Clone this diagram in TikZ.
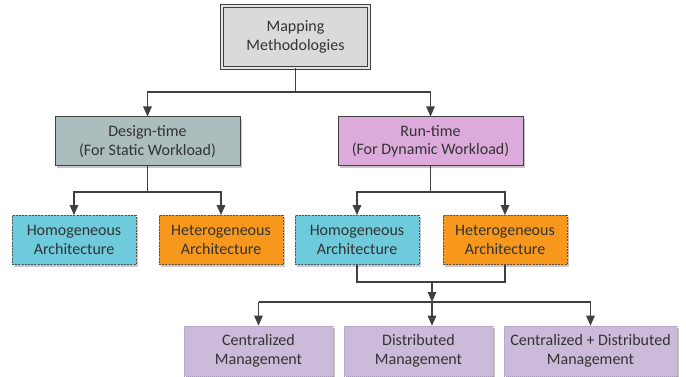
\documentclass[tikz,border=0pt]{standalone}
\usepackage{fontspec}
\setmainfont{Carlito}
\usetikzlibrary{arrows.meta,shadows}
\definecolor{txt}{HTML}{333333}
\definecolor{ln}{HTML}{404040}
\definecolor{topfill}{HTML}{DADADA}
\definecolor{designfill}{HTML}{ABBDBD}
\definecolor{runfill}{HTML}{DCABDC}
\definecolor{cyanfill}{HTML}{6DCBDC}
\definecolor{orangefill}{HTML}{F7981D}
\definecolor{mgmtfill}{HTML}{CBBAD9}
\definecolor{mgmtedge}{HTML}{A898B8}
\tikzset{
  base/.style={font=\fontsize{16}{18.5}\selectfont, text=txt, align=center, inner sep=0pt,
    drop shadow={shadow xshift=2pt, shadow yshift=-2pt, fill=black!22, opacity=1}},
  topbox/.style={base, draw=ln, line width=0.7pt, double=topfill!70!white, double distance=2pt,
    fill=topfill, minimum width=147pt, minimum height=62pt},
  midbox/.style={base, draw=ln, line width=1pt, minimum width=185pt, minimum height=49pt},
  archbox/.style={base, draw=ln!90, line width=0.8pt, dash pattern=on 2pt off 1.2pt,
    minimum width=124pt, minimum height=49pt},
  mgmtbox/.style={base, draw=mgmtedge, line width=0.6pt, dash pattern=on 1pt off 1pt,
    fill=mgmtfill, minimum height=50pt},
  conn/.style={draw=ln, line width=1.3pt},
  arr/.style={conn, -{Triangle[length=10pt,width=8.5pt]}}
}
\begin{document}
\begin{tikzpicture}[x=1pt,y=-1pt]
\useasboundingbox (0,0) rectangle (686,377);
\node[topbox] (top) at (295.5,37) {Mapping\\Methodologies};
\node[midbox, fill=designfill] (design) at (147.5,141.5) {Design-time\\(For Static Workload)};
\node[midbox, fill=runfill] (run) at (430.5,141.5) {Run-time\\(For Dynamic Workload)};
\node[archbox, fill=cyanfill] (homL) at (74,240) {Homogeneous\\Architecture};
\node[archbox, fill=orangefill] (hetL) at (221,240) {Heterogeneous\\Architecture};
\node[archbox, fill=cyanfill] (homR) at (357,240) {Homogeneous\\Architecture};
\node[archbox, fill=orangefill] (hetR) at (505,240) {Heterogeneous\\Architecture};
\node[mgmtbox, minimum width=149pt] (cent) at (258.5,351) {Centralized\\Management};
\node[mgmtbox, minimum width=149pt] (dist) at (418.5,351) {Distributed\\Management};
\node[mgmtbox, minimum width=173pt] (cd) at (590.5,351) {Centralized + Distributed\\Management};
% top level
\coordinate (j1) at (295.5,92);
\draw[conn] (top.south) -- (j1);
\draw[arr] (j1) -| (design.north);
\draw[arr] (j1) -| (run.north);
% design-time
\coordinate (j2) at (147.5,192);
\draw[conn] (design.south) -- (j2);
\draw[arr] (j2) -| (homL.north);
\draw[arr] (j2) -| (hetL.north);
% run-time
\coordinate (j3) at (430.5,192);
\draw[conn] (run.south) -- (j3);
\draw[arr] (j3) -| (homR.north);
\draw[arr] (j3) -| (hetR.north);
% merge
\coordinate (j4) at (432,282);
\coordinate (j5) at (432,302);
\draw[conn] (homR.south) |- (j4) -| (hetR.south);
\draw[arr] (j4) -- (j5);
\draw[conn] (cent.north |- j5) -- (cd.north |- j5);
\draw[arr] (cent.north |- j5) -- (cent.north);
\draw[arr] (j5) -- (j5 |- dist.north);
\draw[arr] (cd.north |- j5) -- (cd.north);
\end{tikzpicture}
\end{document}
